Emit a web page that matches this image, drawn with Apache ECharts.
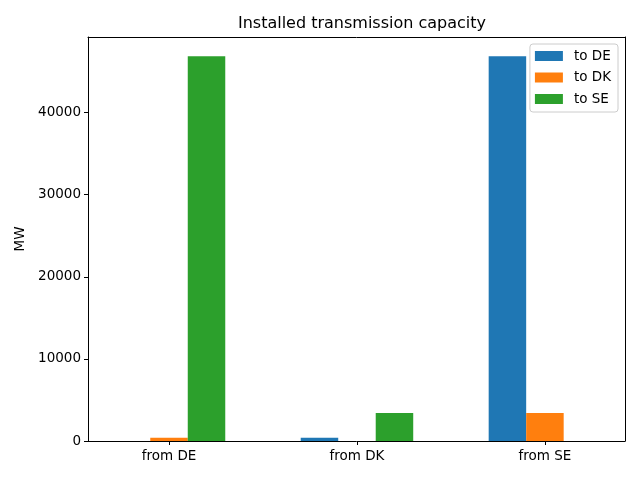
<!DOCTYPE html>
<html><head><meta charset="utf-8">
<script src="https://cdn.jsdelivr.net/npm/echarts@6/dist/echarts.min.js"></script>
<style>html,body{margin:0;padding:0;background:#fff}#c{width:640px;height:480px}</style>
</head><body><div id="c"></div>
<script>
const categories = ['from DE', 'from DK', 'from SE'];
const seriesNames = ['to DE', 'to DK', 'to SE'];
const toDE = [0, 400, 46850];
const toDK = [400, 0, 3400];
const toSE = [46850, 3400, 0];
const yTicks = [0, 10000, 20000, 30000, 40000];
const colors = ['#1f77b4', '#ff7f0e', '#2ca02c'];
const font = 'DejaVu Sans';

const allValues = [toDE, toDK, toSE];
const chart = echarts.init(document.getElementById('c'), null, {renderer: 'canvas'});
const lineStyle = {color: '#000', width: 1};
chart.setOption({
  animation: false,
  color: colors,
  title: {text: 'Installed transmission capacity', left: 357, top: 11, textAlign: 'center',
    textStyle: {fontFamily: font, fontSize: 16, fontWeight: 'normal', color: '#000'}},
  legend: {
    orient: 'vertical', right: 22, top: 44, itemWidth: 28, itemHeight: 10, itemGap: 7.5,
    padding: [5, 7, 6, 5],
    borderColor: '#ccc', borderWidth: 1, borderRadius: 3,
    textStyle: {fontFamily: font, fontSize: 13.5, color: '#000', padding: [0, 0, 0, 6]},
    icon: 'rect', data: seriesNames
  },
  grid: {left: 88, right: 15, top: 37, bottom: 39, containLabel: false},
  xAxis: [{
    type: 'value', min: -0.431, max: 2.426, position: 'bottom',
    axisLine: {show: true, onZero: false, lineStyle}, splitLine: {show: false},
    axisTick: {show: true, customValues: [0, 1, 2], length: 4, lineStyle},
    axisLabel: {customValues: [0, 1, 2], formatter: v => categories[Math.round(v)],
      fontFamily: font, fontSize: 13.5, color: '#000', margin: 8}
  }, {
    type: 'value', min: -0.431, max: 2.426, position: 'top',
    axisLine: {show: true, onZero: false, lineStyle}, axisTick: {show: false}, axisLabel: {show: false}, splitLine: {show: false}
  }],
  yAxis: [{
    type: 'value', min: 0, max: 49200, position: 'left',
    name: 'MW', nameLocation: 'middle', nameGap: 58, nameRotate: 90,
    nameTextStyle: {fontFamily: font, fontSize: 13.5, color: '#000'},
    axisLine: {show: true, onZero: false, lineStyle}, splitLine: {show: false},
    axisTick: {show: true, customValues: yTicks, length: 4, lineStyle},
    axisLabel: {customValues: yTicks, formatter: v => String(v), fontFamily: font, fontSize: 13.5, color: '#000', margin: 7}
  }, {
    type: 'value', min: 0, max: 49200, position: 'right',
    axisLine: {show: true, onZero: false, lineStyle}, axisTick: {show: false}, axisLabel: {show: false}, splitLine: {show: false}
  }],
  series: seriesNames.map((n, i) => ({
    name: n, type: 'bar', xAxisIndex: 0, yAxisIndex: 0,
    barWidth: 37.5, barGap: '0%',
    data: allValues[i].map((v, j) => [j, v])
  }))
});
</script></body></html>
